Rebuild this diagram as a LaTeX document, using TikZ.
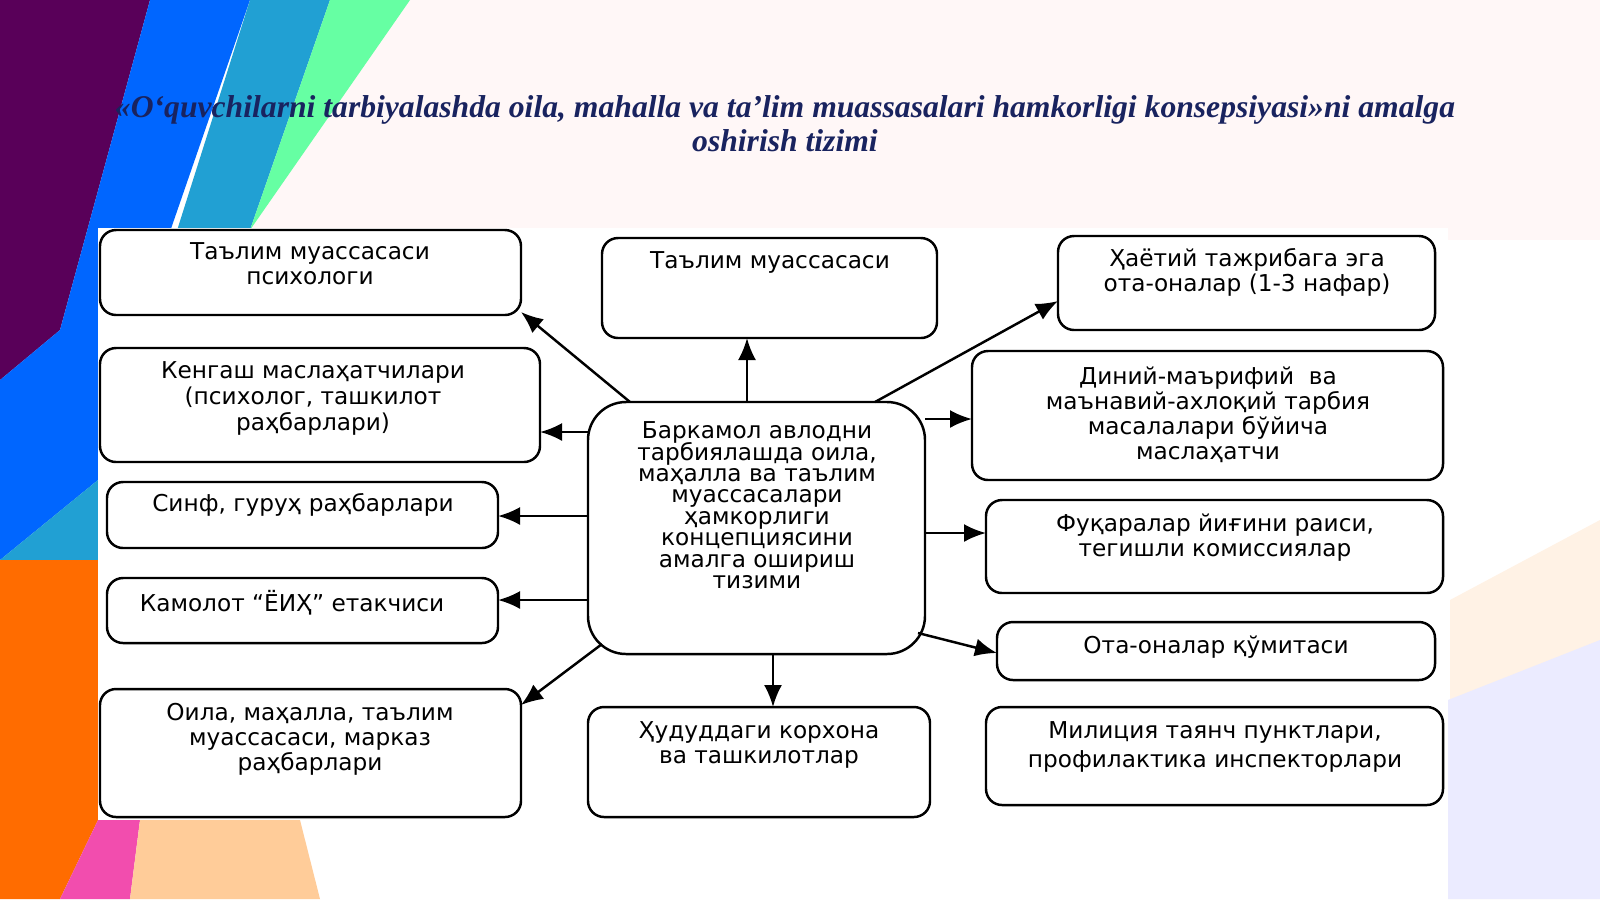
\documentclass[tikz,border=0pt]{standalone}
\usepackage{fontspec}
\setmainfont{DejaVu Sans}
\newfontfamily\titlefont{Liberation Serif}
\usetikzlibrary{arrows.meta}
\definecolor{titleblue}{RGB}{25,35,95}
\lineskiplimit=-10pt
\tikzset{
  bx/.style={draw=black,line width=0.7pt,rounded corners=0.16cm},
  tx/.style={anchor=north,align=center,font=\fontsize{6.6}{7.1}\selectfont,inner sep=0pt},
  ar/.style={-{Latex[length=2.2mm,width=1.8mm]},line width=0.7pt}
}
\newcommand{\bxn}[6][]{\draw[bx,#1] (#3,#4) rectangle (#5,#6);
  \coordinate (#2) at ({(#3+#5)/2},#4);}
\begin{document}
\begin{tikzpicture}[x=0.01cm,y=-0.01cm]
\useasboundingbox (0,0) rectangle (1600,899);
\fill[white] (0,0) rectangle (1600,899);
% background decoration
\fill[pink!12] (250,0) -- (1600,0) -- (1600,240) -- (250,240) -- cycle;
\fill[orange!10] (1450,600) -- (1600,520) -- (1600,899) -- (1450,899) -- cycle;
\fill[violet!70!black] (0,0) -- (150,0) -- (60,330) -- (0,380) -- cycle;
\fill[blue!60!cyan] (150,0) -- (250,0) -- (98,440) -- (98,480) -- (0,560) -- (0,380) -- (60,330) -- cycle;
\fill[cyan!70!teal] (250,0) -- (330,0) -- (250,230) -- (98,560) -- (0,560) -- (98,480) -- cycle;
\fill[green!60!cyan!60] (330,0) -- (410,0) -- (250,230) -- cycle;
\fill[orange!85!red] (0,560) -- (98,560) -- (98,820) -- (60,899) -- (0,899) -- cycle;
\fill[magenta!70] (60,899) -- (98,820) -- (140,820) -- (130,899) -- cycle;
\fill[orange!40] (130,899) -- (140,820) -- (300,820) -- (320,899) -- cycle;
\fill[blue!8] (1448,700) -- (1600,640) -- (1600,899) -- (1448,899) -- cycle;
\fill[white] (98,228) rectangle (1448,820);
% title
\node[align=center,text=titleblue,font=\titlefont\bfseries\itshape\fontsize{9}{9.6}\selectfont] (title) at (785,124)
 {«O‘quvchilarni tarbiyalashda oila, mahalla va ta’lim muassasalari hamkorligi konsepsiyasi»ni amalga\\oshirish tizimi};
% boxes
\bxn{L1}{100}{230}{521}{315}
\node[tx] (tL1) at (310,242) {Таълим муассасаси\\психологи};
\bxn{L2}{100}{348}{540}{462}
\node[tx,font=\fontsize{6.6}{7.4}\selectfont] (tL2) at (313,361) {Кенгаш маслаҳатчилари\\(психолог, ташкилот\\раҳбарлари)};
\bxn{L3}{107}{482}{498}{548}
\node[tx] (tL3) at (303,493) {Синф, гуруҳ раҳбарлари};
\bxn{L4}{107}{578}{498}{643}
\node[tx] (tL4) at (292,590) {Камолот “ЁИҲ” етакчиси};
\bxn{L5}{100}{689}{521}{817}
\node[tx] (tL5) at (310,703) {Оила, маҳалла, таълим\\муассасаси, марказ\\раҳбарлари};
\bxn{T}{602}{238}{937}{338}
\node[tx] (tT) at (770,251) {Таълим муассасаси};
\bxn[rounded corners=0.38cm]{C}{588}{402}{925}{654}
\node[tx,font=\fontsize{6.6}{6.1}\selectfont] (tC) at (757,421) {Баркамол авлодни\\тарбиялашда оила,\\маҳалла ва таълим\\муассасалари\\ҳамкорлиги\\концепциясини\\амалга ошириш\\тизими};
\bxn{B}{588}{707}{930}{817}
\node[tx] (tB) at (759,721) {Ҳудуддаги корхона\\ва ташкилотлар};
\bxn{R1}{1058}{236}{1435}{330}
\node[tx] (tR1) at (1247,248) {Ҳаётий тажрибага эга\\ота-оналар (1-3 нафар)};
\bxn{R2}{972}{351}{1443}{480}
\node[tx] (tR2) at (1208,366) {Диний-маърифий\ \ ва\\маънавий-ахлоқий тарбия\\масалалари бўйича\\маслаҳатчи};
\bxn{R3}{986}{500}{1443}{593}
\node[tx] (tR3) at (1215,513) {Фуқаралар йиғини раиси,\\тегишли комиссиялар};
\bxn{R4}{997}{622}{1435}{680}
\node[tx] (tR4) at (1216,635) {Ота-оналар қўмитаси};
\bxn{R5}{986}{707}{1443}{805}
\node[tx,font=\fontsize{6.6}{8.3}\selectfont] (tR5) at (1215,721) {Милиция таянч пунктлари,\\профилактика инспекторлари};
% arrows
\coordinate (a1s) at (630,402); \coordinate (a1e) at (521,312);
\coordinate (a2s) at (588,432); \coordinate (a2e) at (540,432);
\coordinate (a3s) at (588,516); \coordinate (a3e) at (498,516);
\coordinate (a4s) at (588,600); \coordinate (a4e) at (498,600);
\coordinate (a5s) at (602,644); \coordinate (a5e) at (521,705);
\coordinate (a6s) at (747,402); \coordinate (a6e) at (747,338);
\coordinate (a7s) at (875,402); \coordinate (a7e) at (1058,301);
\coordinate (a8s) at (925,419); \coordinate (a8e) at (972,419);
\coordinate (a9s) at (925,533); \coordinate (a9e) at (986,533);
\coordinate (a10s) at (918,633); \coordinate (a10e) at (997,653);
\coordinate (a11s) at (773,654); \coordinate (a11e) at (773,707);
\foreach \i in {1,...,11} \draw[ar] (a\i s) -- (a\i e);
\end{tikzpicture}
\end{document}
